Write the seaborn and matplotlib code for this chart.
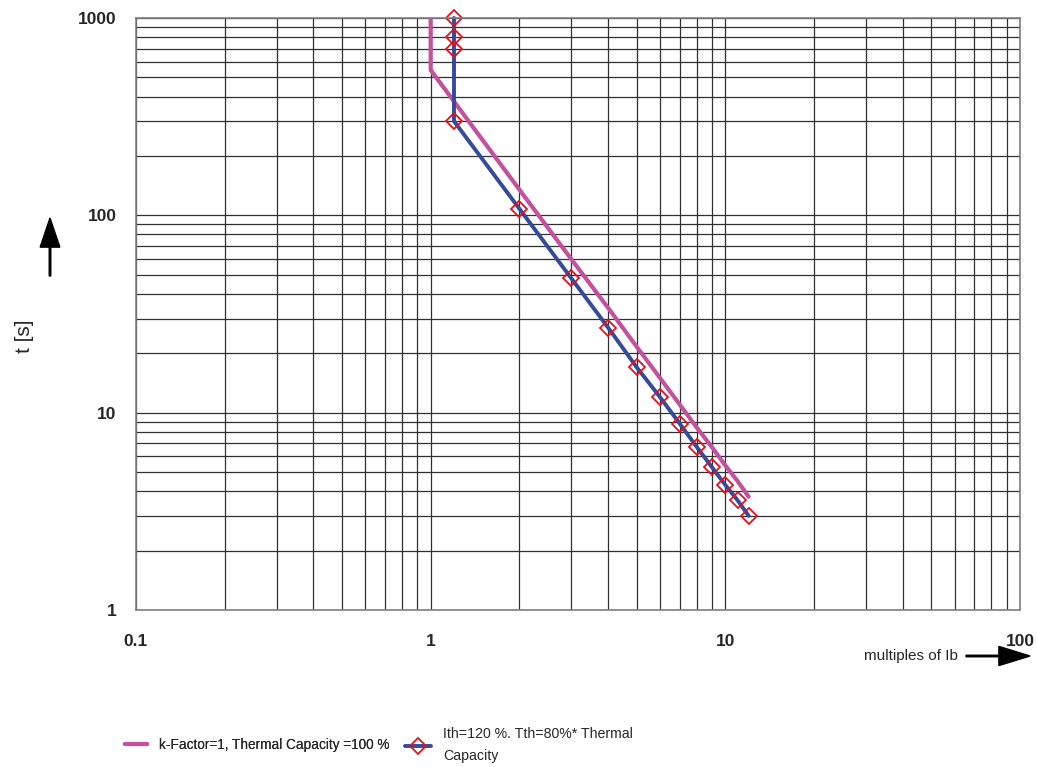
import numpy as np
import pandas as pd
import matplotlib
matplotlib.use('Agg')
import matplotlib.pyplot as plt
import seaborn as sns
from matplotlib.ticker import LogLocator, NullFormatter, FixedFormatter, FixedLocator

# k-Factor=1, Thermal Capacity = 100 %
k_current = [1, 1, 2, 3, 4, 5, 6, 7, 8, 9, 10, 11, 12]
k_time = [1000, 545, 135, 60, 34, 21.6, 15, 11, 8.4, 6.7, 5.4, 4.5, 3.75]

# Ith=120 %, Tth=80 % * Thermal Capacity
i_current = [1.2, 1.2, 1.2, 1.2, 2, 3, 4, 5, 6, 7, 8, 9, 10, 11, 12]
i_time = [1000, 800, 700, 300, 108, 48, 27, 17, 12, 8.8, 6.7, 5.3, 4.3, 3.6, 3.0]

x_ticks = [0.1, 1, 10, 100]
x_labels = ['0.1', '1', '10', '100']
y_ticks = [1, 10, 100, 1000]
y_labels = ['1', '10', '100', '1000']

label_k = 'k-Factor=1, Thermal Capacity =100 %'
label_i = 'Ith=120 %. Tth=80%* Thermal\nCapacity'

df_k = pd.DataFrame({'I': k_current, 't': k_time})
df_i = pd.DataFrame({'I': i_current, 't': i_time})

sns.set_style('white')
plt.rcParams['font.family'] = ['Liberation Sans', 'DejaVu Sans']

fig = plt.figure(figsize=(10.37, 7.67), dpi=100)
ax = fig.add_axes([136 / 1037, 1 - 610 / 767, 884 / 1037, 592 / 767])

sns.lineplot(data=df_k, x='I', y='t', ax=ax, sort=False, estimator=None,
             color='#C4519B', lw=3.0, label=label_k, legend=False)
sns.lineplot(data=df_i, x='I', y='t', ax=ax, sort=False, estimator=None,
             color='#344A9A', lw=2.8, marker='D', markersize=8.5,
             markerfacecolor='none', markeredgecolor='#E8101E',
             markeredgewidth=1.3, label=label_i, legend=False, clip_on=False)

ax.set_xscale('log')
ax.set_yscale('log')
ax.set_xlim(0.1, 100)
ax.set_ylim(1, 1000)

ax.xaxis.set_major_locator(FixedLocator(x_ticks))
ax.xaxis.set_major_formatter(FixedFormatter(x_labels))
ax.yaxis.set_major_locator(FixedLocator(y_ticks))
ax.yaxis.set_major_formatter(FixedFormatter(y_labels))
ax.xaxis.set_minor_locator(LogLocator(base=10, subs=np.arange(2, 10)))
ax.yaxis.set_minor_locator(LogLocator(base=10, subs=np.arange(2, 10)))
ax.xaxis.set_minor_formatter(NullFormatter())
ax.yaxis.set_minor_formatter(NullFormatter())

ax.grid(which='both', color='#303030', lw=0.9)
ax.set_axisbelow(True)
for s in ax.spines.values():
    s.set_color('#808080')
    s.set_linewidth(1.2)

ax.tick_params(axis='both', which='both', direction='out', length=4,
               color='#404040', width=0.8)
ax.tick_params(axis='x', which='major', pad=13, labelsize=12.5)
ax.tick_params(axis='y', which='major', pad=10, labelsize=12.5)
for t in ax.get_xticklabels() + ax.get_yticklabels():
    t.set_fontweight('bold')

ax.set_xlabel('')
ax.set_ylabel('')

# axis captions with arrows
fig.text(24 / 1037, 1 - 336 / 767, 't [s]', rotation=90, ha='center',
         va='center', fontsize=15)
fig.patches.append(matplotlib.patches.FancyArrow(
    50 / 1037, 1 - 276 / 767, 0, 58 / 767, width=0.0015, head_width=0.019,
    head_length=0.038, length_includes_head=True, color='black',
    transform=fig.transFigure, figure=fig))
fig.text(958 / 1037, 1 - 656 / 767, 'multiples of Ib', ha='right',
         va='center', fontsize=11)
fig.patches.append(matplotlib.patches.FancyArrow(
    966 / 1037, 1 - 656 / 767, 64 / 1037, 0, width=0.002, head_width=0.025,
    head_length=0.03, length_includes_head=True, color='black',
    transform=fig.transFigure, figure=fig))

handles, labels = ax.get_legend_handles_labels()
leg1 = fig.legend(handles[:1], labels[:1], loc='center left',
                  bbox_to_anchor=(125 / 1037, 1 - 745 / 767), frameon=False,
                  fontsize=9.8, handlelength=1.6, handletextpad=0.9,
                  borderpad=0, borderaxespad=0)
fig.legend(handles[1:], labels[1:], loc='center left',
           bbox_to_anchor=(405 / 1037, 1 - 745 / 767), frameon=False,
           fontsize=10.2, handlelength=1.8, handletextpad=0.9,
           borderpad=0, borderaxespad=0)
fig.add_artist(leg1)
for leg in fig.legends:
    for txt in leg.get_texts():
        txt.set_linespacing(1.7)

fig.savefig('out.png', dpi=100)
